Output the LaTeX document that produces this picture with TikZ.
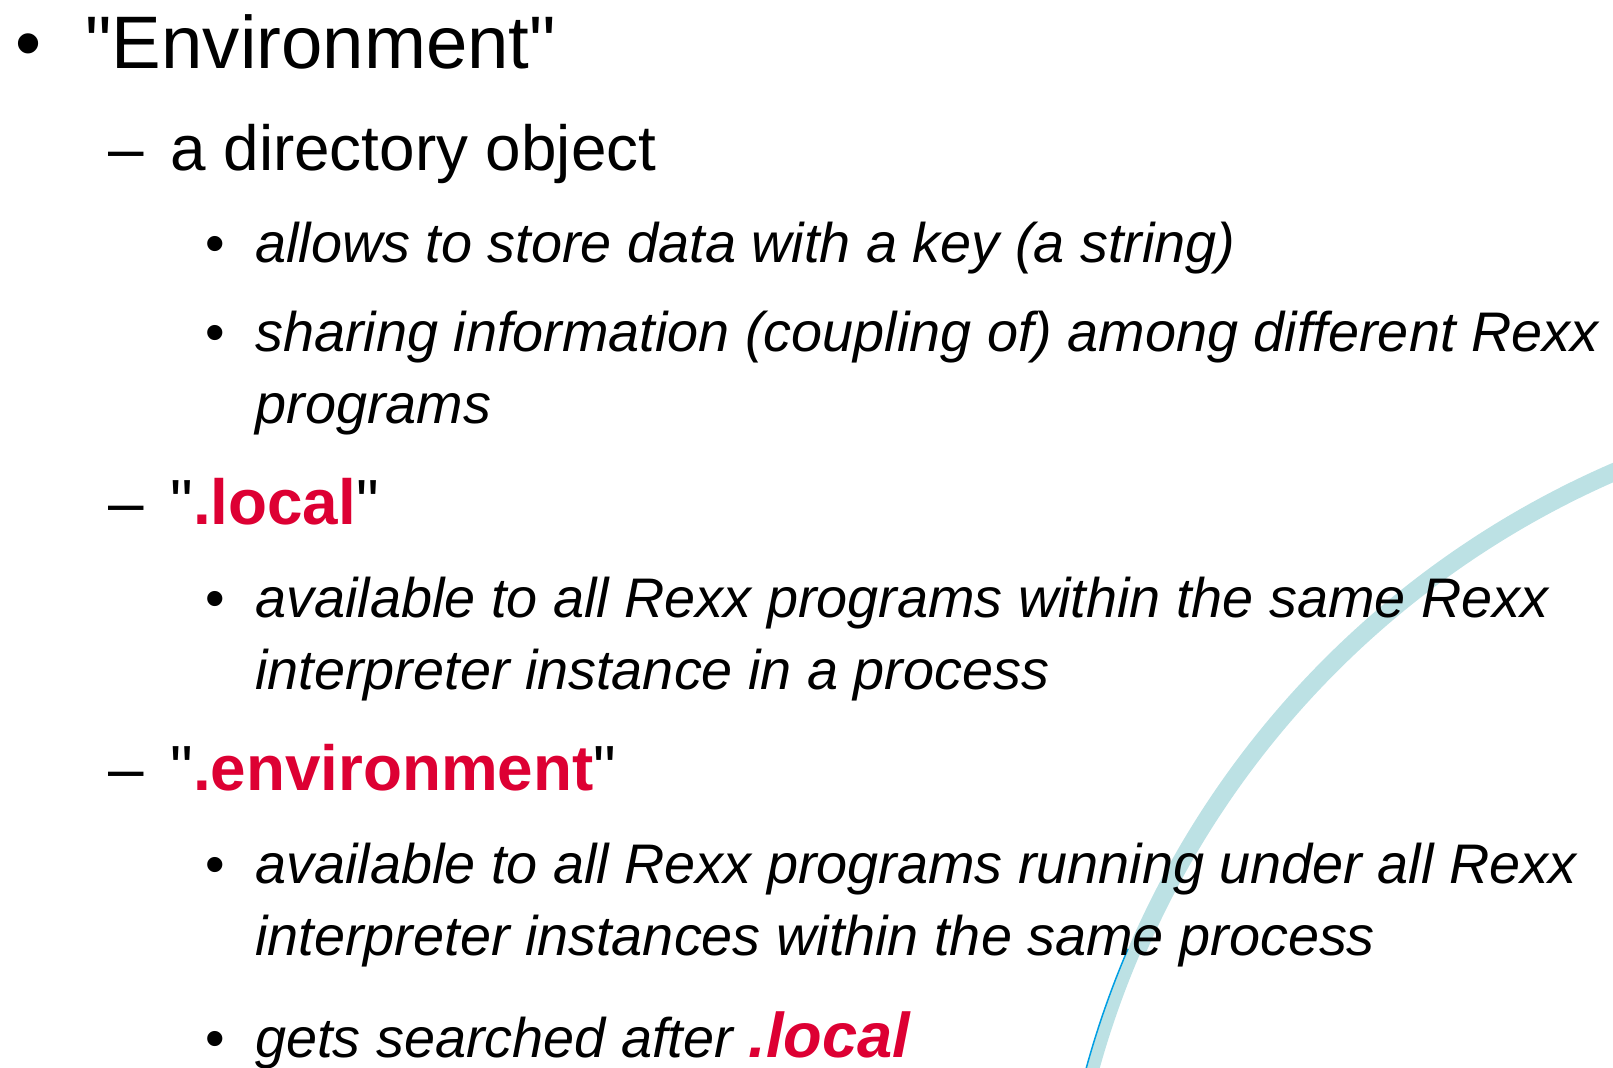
\documentclass[tikz,border=0pt]{standalone}
\usepackage{fontspec}
\setmainfont{Liberation Sans}[Ligatures=TeXOff]
\definecolor{rexxred}{RGB}{221,0,51}
\definecolor{arcteal}{RGB}{188,225,228}
\definecolor{arcblue}{RGB}{0,158,227}
\newcommand{\redkw}[1]{\textcolor{rexxred}{\bfseries #1}}
\tikzset{
  lvlone/.style={anchor=base west,inner sep=0pt,font=\fontsize{37.2}{44}\selectfont},
  lvltwo/.style={anchor=base west,inner sep=0pt,font=\fontsize{31.9}{38}\selectfont},
  lvlthree/.style={anchor=base west,inner sep=0pt,font=\fontsize{27.9}{36}\selectfont\itshape},
  dotthree/.style={anchor=base west,inner sep=0pt,font=\fontsize{27.9}{36}\selectfont},
}
\begin{document}
\begin{tikzpicture}[x=0.5pt,y=0.5pt,yscale=-1,xscale=1]
        \useasboundingbox (0,0) rectangle (1613,1067);
        \clip (0,0) rectangle (1613,1067);
        % decorative arc in the lower right corner
        \draw [color=arcteal,line width=9pt] (1980,1314) ++(-105:918) arc [start angle=-105,end angle=-156.8,radius=918];
        \draw [color=arcteal,line width=6.5pt] (1980,1314) ++(-156.8:920.5) arc [start angle=-156.8,end angle=-172,radius=920.5];
        \draw [color=arcblue,line width=0.75pt] (1980,1314) ++(-156.8:927) arc [start angle=-156.8,end angle=-172,radius=927];
        % level one
        \draw (15,68) node [lvlone] (dotenv) {•};
        \draw (85,68) node [lvlone] (env) {"Environment"};
        % directory object
        \draw (108,170) node [lvltwo] (dashdir) {–};
        \draw (170,170) node [lvltwo] (dirobj) {a directory object};
        \draw (205,262) node [dotthree] (dotstore) {•};
        \draw (255,262) node [lvlthree] (store) {allows to store data with a key (a string)};
        \draw (205,351) node [dotthree] (dotshare) {•};
        \draw (255,351) node [lvlthree] (share) {sharing information (coupling of) among different Rexx};
        \draw (255,423) node [lvlthree] (sharetwo) {programs};
        % .local
        \draw (108,524) node [lvltwo] (dashlocal) {–};
        \draw (170,524) node [lvltwo] (local) {"\redkw{.local}"};
        \draw (205,617) node [dotthree] (dotlocal) {•};
        \draw (255,617) node [lvlthree] (localav) {available to all Rexx programs within the same Rexx};
        \draw (255,689) node [lvlthree] (localavtwo) {interpreter instance in a process};
        % .environment
        \draw (108,790) node [lvltwo] (dashenv) {–};
        \draw (170,790) node [lvltwo] (dotenvdir) {"\redkw{.environment}"};
        \draw (205,883) node [dotthree] (dotenvav) {•};
        \draw (255,883) node [lvlthree] (envav) {available to all Rexx programs running under all Rexx};
        \draw (255,955) node [lvlthree] (envavtwo) {interpreter instances within the same process};
        \draw (205,1057) node [dotthree] (dotsearch) {•};
        \draw (255,1057) node [lvlthree] (search) {gets searched after {\fontsize{31.6}{36}\selectfont\redkw{.local}}};
\end{tikzpicture}
\end{document}
